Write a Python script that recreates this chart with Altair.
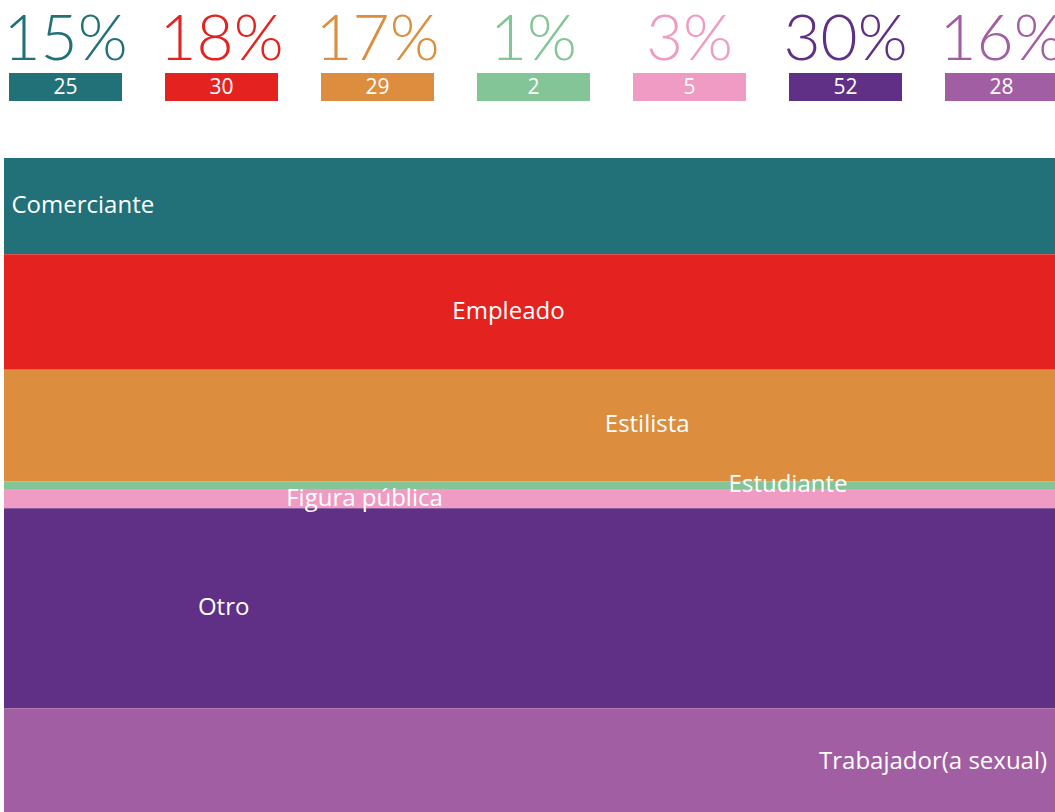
import altair as alt
import pandas as pd

categories = ["Comerciante", "Empleado", "Estilista", "Estudiante",
              "Figura pública", "Otro", "Trabajador(a sexual)"]
counts = [25, 30, 29, 2, 5, 52, 28]
colors = ["#227178", "#E42320", "#DC8D3E", "#83C596", "#F09BC3", "#602F86", "#A25EA2"]
# horizontal placement of each band label, as a share of the band width
label_x = [0.075, 0.48, 0.612, 0.746, 0.343, 0.209, 0.884]

total = sum(counts)
df = pd.DataFrame({
    "cat": categories,
    "count": counts,
    "idx": list(range(len(categories))),
    "lx": label_x,
})
df["pct"] = [f"{round(c / total * 100)}%" for c in counts]
df["end"] = df["count"].cumsum()
df["start"] = df["end"] - df["count"]
df["mid"] = df["end"] - df["count"] / 2

FONT_BIG = "Lato"
FONT = "Open Sans"
W = 1051
H = 812
color_scale = alt.Scale(domain=categories, range=colors)

xband = alt.X("cat:N", sort=categories, axis=None,
              scale=alt.Scale(range=[5, 1054], paddingInner=43 / 156, paddingOuter=0))
base_top = alt.Chart(df).encode(x=xband)
top_rect = base_top.mark_bar().encode(
    y=alt.value(73), y2=alt.value(101),
    color=alt.Color("cat:N", scale=color_scale, legend=None),
)
top_count = base_top.mark_text(font=FONT, fontSize=21, color="white",
                               baseline="middle").encode(
    y=alt.value(88), text="count:Q")
top_pct = base_top.mark_text(font=FONT_BIG, fontSize=64, fontWeight=300,
                             baseline="alphabetic").encode(
    y=alt.value(60), text="pct:N",
    color=alt.Color("cat:N", scale=color_scale, legend=None))
top = alt.layer(top_rect, top_pct, top_count)

yscale = alt.Scale(domain=[0, total], range=[158, 816], nice=False, zero=False)
bands = alt.Chart(df).mark_rect().encode(
    x=alt.value(0), x2=alt.value(W),
    y=alt.Y("start:Q", axis=None, scale=yscale),
    y2="end:Q",
    color=alt.Color("cat:N", scale=color_scale, legend=None),
)
labels = alt.Chart(df).mark_text(font=FONT, fontSize=24, color="white",
                                 baseline="middle", align="center").encode(
    x=alt.X("lx:Q", axis=None, scale=alt.Scale(domain=[0, 1], nice=False)),
    y=alt.Y("mid:Q", axis=None, scale=yscale),
    text="cat:N",
)
bottom = alt.layer(bands, labels)

chart = alt.layer(top, bottom).resolve_scale(x="independent", y="independent").properties(
    width=W, height=H,
    padding={"left": 4, "top": 0, "right": 0, "bottom": 0},
    autosize=alt.AutoSizeParams(type="none"),
    background="white",
).configure_view(stroke=None)

chart.save("out.html", embed_options={"renderer": "svg", "actions": False})
